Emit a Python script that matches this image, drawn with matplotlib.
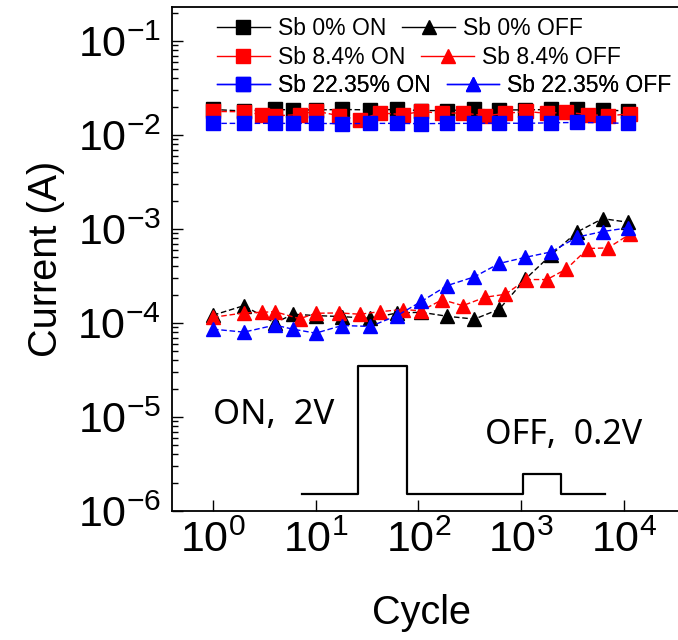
import matplotlib
matplotlib.use("Agg")
import matplotlib.pyplot as plt
from matplotlib.lines import Line2D

plt.rcParams['font.family'] = ['Liberation Sans', 'DejaVu Sans']
plt.rcParams['mathtext.default'] = 'regular'

# cycle numbers of the measurements
cyc_0 = [1, 2, 4, 6, 10, 18, 34, 62, 107, 190, 350, 610, 1100, 1950, 3500, 6200, 11000]
cyc_84 = [1, 2, 3, 4, 7, 10, 17, 27, 42, 70, 107, 170, 270, 445, 700, 1120, 1780,
          2750, 4460, 7000, 11400]
cyc_2235 = [1, 2, 4, 6, 10, 18, 34, 62, 107, 190, 350, 610, 1100, 1950, 3500, 6200, 11000]

# currents (A)
on_0 = [1.87e-2, 1.80e-2, 1.87e-2, 1.85e-2, 1.85e-2, 1.87e-2, 1.85e-2, 1.87e-2, 1.82e-2,
        1.82e-2, 1.87e-2, 1.85e-2, 1.85e-2, 1.87e-2, 1.87e-2, 1.85e-2, 1.80e-2]
off_0 = [1.21e-4, 1.53e-4, 1.0e-4, 1.24e-4, 1.2e-4, 1.17e-4, 1.12e-4, 1.28e-4, 1.3e-4,
         1.18e-4, 1.1e-4, 1.4e-4, 2.94e-4, 5.3e-4, 9.3e-4, 1.29e-3, 1.18e-3]
on_84 = [1.78e-2, 1.77e-2, 1.65e-2, 1.6e-2, 1.65e-2, 1.8e-2, 1.6e-2, 1.45e-2, 1.72e-2,
         1.65e-2, 1.78e-2, 1.7e-2, 1.72e-2, 1.6e-2, 1.7e-2, 1.78e-2, 1.7e-2, 1.75e-2,
         1.65e-2, 1.6e-2, 1.68e-2]
off_84 = [1.15e-4, 1.28e-4, 1.3e-4, 1.32e-4, 1.11e-4, 1.27e-4, 1.28e-4, 1.24e-4, 1.32e-4,
          1.39e-4, 1.35e-4, 1.77e-4, 1.53e-4, 1.88e-4, 2.02e-4, 2.9e-4, 2.9e-4, 3.75e-4,
          6.2e-4, 6.3e-4, 8.8e-4]
on_2235 = [1.33e-2, 1.33e-2, 1.33e-2, 1.33e-2, 1.33e-2, 1.32e-2, 1.33e-2, 1.33e-2, 1.32e-2,
           1.33e-2, 1.33e-2, 1.34e-2, 1.33e-2, 1.35e-2, 1.36e-2, 1.35e-2, 1.33e-2]
off_2235 = [8.6e-5, 8.0e-5, 9.5e-5, 8.6e-5, 7.8e-5, 9.4e-5, 9.2e-5, 1.2e-4, 1.7e-4,
            2.5e-4, 3.1e-4, 4.3e-4, 5.0e-4, 5.7e-4, 8.2e-4, 9.4e-4, 1.03e-3]

# pulse sketch
pulse_x = [7.3, 26, 26, 77, 77, 1040, 1040, 2450, 2450, 6500]
pulse_y = [1.5e-6, 1.5e-6, 3.5e-5, 3.5e-5, 1.5e-6, 1.5e-6, 2.5e-6, 2.5e-6, 1.5e-6, 1.5e-6]

series = [
    ("Sb 0%", cyc_0, on_0, off_0, "black"),
    ("Sb 8.4%", cyc_84, on_84, off_84, "#ff0000"),
    ("Sb 22.35%", cyc_2235, on_2235, off_2235, "#0000ff"),
]

fig = plt.figure(figsize=(6.78, 6.4), dpi=100)
ax = fig.add_axes([172 / 678, 129 / 640, 506 / 678, 504 / 640])

dash = (0, (4, 2))
for name, x, on, off, c in series:
    ax.plot(x, on, linestyle=dash, lw=1, color=c, marker='s', ms=9.4, mec=c, mfc=c)
    ax.plot(x, off, linestyle=dash, lw=1, color=c, marker='^', ms=10.5, mec=c, mfc=c)

ax.plot(pulse_x, pulse_y, color='black', lw=1.6)
ax.text(1.0, 1.05e-5, "ON,  2V", fontsize=25, family='Noto Sans', va='center', ha='left')
ax.text(444, 6.4e-6, "OFF,  0.2V", fontsize=24.5, family='Noto Sans', va='center', ha='left')

ax.set_xscale('log')
ax.set_yscale('log')
ax.set_xlim(10 ** -0.399, 10 ** 4.526)
ax.set_ylim(1e-6, 10 ** -0.638)
ax.set_xticks([1, 10, 100, 1000, 10000])
ax.set_yticks([1e-6, 1e-5, 1e-4, 1e-3, 1e-2, 1e-1])
ax.tick_params(which='both', direction='in', width=1, labelsize=31)
ax.tick_params(which='major', length=8)
ax.tick_params(which='minor', length=4)
ax.tick_params(axis='x', pad=7)
ax.tick_params(axis='y', pad=8)
ax.spines['right'].set_visible(False)
for s in ['left', 'bottom', 'top']:
    ax.spines[s].set_linewidth(1.3)

ax.set_xlabel("Cycle", fontsize=28.5)
ax.set_ylabel("Current (A)", fontsize=28.5)
ax.xaxis.set_label_coords(0.494, -0.165)
ax.yaxis.set_label_coords(-0.212, 0.5)

# legend, one row per composition
rows_y = [0.958, 0.899, 0.845]
for (name, x, on, off, c), ry in zip(series, rows_y):
    h_on = Line2D([], [], color=c, lw=1, marker='s', ms=9.4, mec=c, mfc=c)
    h_off = Line2D([], [], color=c, lw=1, marker='^', ms=10.5, mec=c, mfc=c)
    leg = ax.legend([h_on, h_off], [name + " ON", name + " OFF"], ncol=2,
                    loc='center left', bbox_to_anchor=(0.089, ry), frameon=False,
                    fontsize=16.5, handlelength=2.3, handletextpad=0.35,
                    columnspacing=0.7, borderpad=0, borderaxespad=0, numpoints=1)
    ax.add_artist(leg)

fig.savefig("out.png", dpi=100)
